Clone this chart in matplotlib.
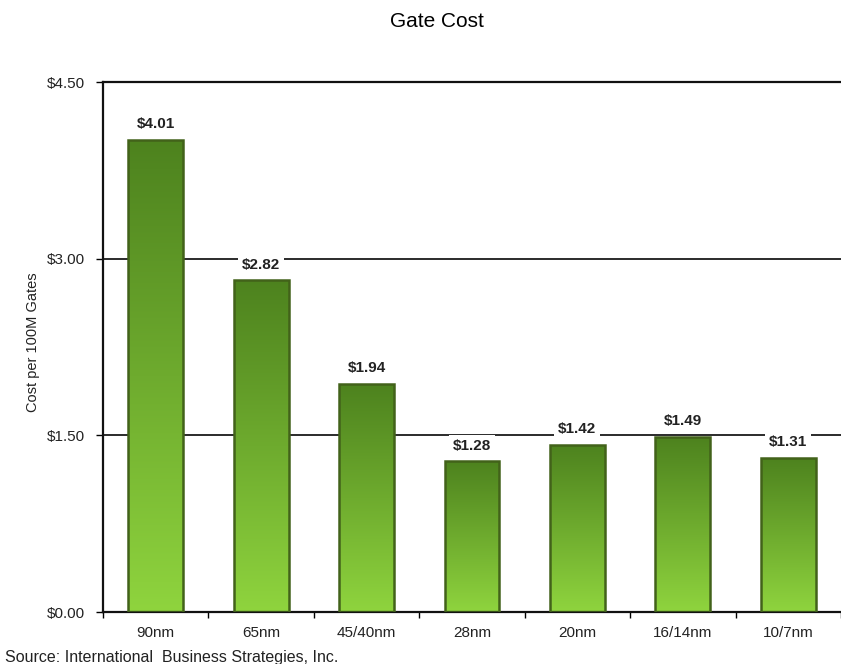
import numpy as np
import matplotlib.pyplot as plt
from matplotlib.colors import LinearSegmentedColormap

plt.rcParams["font.family"] = ["Liberation Sans", "DejaVu Sans"]

nodes = ["90nm", "65nm", "45/40nm", "28nm", "20nm", "16/14nm", "10/7nm"]
gate_cost = [4.01, 2.82, 1.94, 1.28, 1.42, 1.49, 1.31]
y_ticks = [0.0, 1.5, 3.0, 4.5]

fig = plt.figure(figsize=(8.41, 6.64), dpi=100)
ax = fig.add_axes([0.1225, 0.0783, 0.8775, 0.7982])

x = np.arange(len(nodes))
bars = ax.bar(x, gate_cost, width=0.52, color="none", edgecolor="#42621a",
              linewidth=1.8, zorder=3)

# vertical gradient inside each bar
green = LinearSegmentedColormap.from_list("grn", ["#8fd43e", "#4d821e"])
grad = np.linspace(0, 1, 256).reshape(-1, 1)
for b in bars:
    x0, w, h = b.get_x(), b.get_width(), b.get_height()
    im = ax.imshow(grad, cmap=green, aspect="auto", origin="lower",
                   extent=[x0, x0 + w, 0, h], zorder=2)
    im.set_clip_path(b)

for xi, v in zip(x, gate_cost):
    ax.annotate(f"${v:.2f}", (xi, v), xytext=(0, 6), textcoords="offset points",
                ha="center", va="bottom", fontsize=11, fontweight="bold",
                color="#222222", zorder=4,
                bbox=dict(boxstyle="square,pad=0.25", fc="white", ec="none"))

ax.set_xlim(-0.5, len(nodes) - 0.5)
ax.set_ylim(0, 4.5)
ax.set_yticks(y_ticks)
ax.set_yticklabels([f"${t:.2f}" for t in y_ticks], fontsize=11, color="#222222")
ax.set_xticks(x)
ax.set_xticklabels(nodes, fontsize=11, color="#222222")
ax.tick_params(axis="x", length=0, pad=10)
ax.tick_params(axis="y", length=5, width=1, pad=8)
ax.set_xticks(np.arange(len(nodes) + 1) - 0.5, minor=True)
ax.tick_params(axis="x", which="minor", length=4, width=1, direction="out")

ax.yaxis.grid(True, color="#1a1a1a", linewidth=1.3, zorder=0)
ax.set_axisbelow(True)
ax.spines["right"].set_visible(False)
for s in ["left", "bottom", "top"]:
    ax.spines[s].set_linewidth(1.6)
    ax.spines[s].set_color("#111111")

ax.set_ylabel("Cost per 100M Gates", fontsize=10.5, color="#222222")
ax.yaxis.set_label_coords(-0.085, 0.51)
fig.text(0.52, 0.968, "Gate Cost", ha="center", va="center", fontsize=15)
fig.text(0.006, -0.002, "Source: International  Business Strategies, Inc.",
         ha="left", va="bottom", fontsize=11.5, color="#222222")

fig.savefig("out.png", dpi=100)
